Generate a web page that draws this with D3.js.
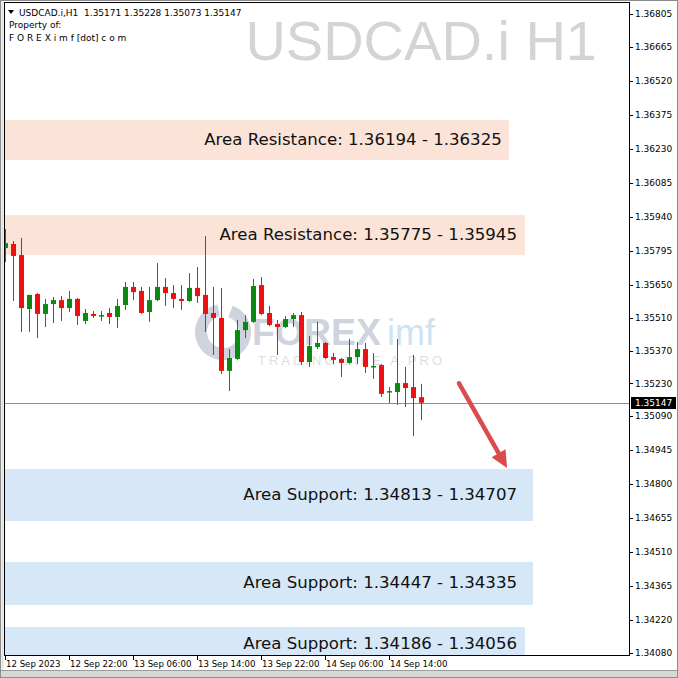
<!DOCTYPE html>
<html><head><meta charset="utf-8">
<script src="https://cdn.jsdelivr.net/npm/d3@7"></script>
<style>html,body{margin:0;padding:0;background:#fff;}svg{display:block;}</style>
</head><body>
<script>
// ---------- DATA ----------
const symbolTitle = "USDCAD.i H1";
const headerLine = "USDCAD.i,H1  1.35171 1.35228 1.35073 1.35147";
const headerLine2 = "Property of:";
const headerLine3 = "F O R E X i m f [dot] c o m";
const lastPrice = 1.35147;

const openP  = [1.35807,1.35824,1.35777,1.35547,1.35611,1.35526,1.35568,1.35585,1.35551,1.35590,1.35496,1.35526,1.35517,1.35530,1.35513,1.35564,1.35641,1.35624,1.35534,1.35585,1.35641,1.35615,1.35590,1.35581,1.35637,1.35607,1.35530,1.35509,1.35283,1.35334,1.35457,1.35492,1.35649,1.35530,1.35483,1.35470,1.35504,1.35521,1.35321,1.35385,1.35402,1.35342,1.35334,1.35317,1.35342,1.35376,1.35300,1.35308,1.35193,1.35193,1.35231,1.35214,1.35171];
const highP  = [1.35888,1.35837,1.35850,1.35607,1.35615,1.35590,1.35598,1.35602,1.35624,1.35594,1.35547,1.35538,1.35538,1.35551,1.35590,1.35662,1.35662,1.35641,1.35641,1.35743,1.35679,1.35649,1.35649,1.35700,1.35726,1.35858,1.35641,1.35637,1.35376,1.35500,1.35521,1.35675,1.35683,1.35560,1.35500,1.35517,1.35530,1.35534,1.35432,1.35492,1.35406,1.35359,1.35338,1.35419,1.35406,1.35402,1.35359,1.35312,1.35214,1.35419,1.35300,1.35351,1.35228];
const lowP   = [1.35747,1.35581,1.35449,1.35449,1.35423,1.35470,1.35487,1.35496,1.35534,1.35479,1.35483,1.35509,1.35496,1.35483,1.35466,1.35543,1.35585,1.35526,1.35492,1.35581,1.35560,1.35551,1.35543,1.35577,1.35573,1.35449,1.35351,1.35270,1.35197,1.35330,1.35423,1.35488,1.35521,1.35474,1.35351,1.35466,1.35470,1.35308,1.35300,1.35376,1.35334,1.35312,1.35257,1.35312,1.35312,1.35274,1.35249,1.35172,1.35146,1.35138,1.35129,1.35005,1.35073];
const closeP = [1.35828,1.35773,1.35551,1.35607,1.35526,1.35568,1.35585,1.35551,1.35590,1.35517,1.35530,1.35517,1.35521,1.35513,1.35560,1.35641,1.35619,1.35530,1.35585,1.35641,1.35615,1.35590,1.35581,1.35637,1.35602,1.35526,1.35509,1.35283,1.35338,1.35457,1.35492,1.35645,1.35526,1.35479,1.35470,1.35504,1.35521,1.35321,1.35389,1.35402,1.35338,1.35330,1.35317,1.35342,1.35376,1.35300,1.35304,1.35185,1.35197,1.35231,1.35210,1.35167,1.35147];

const yTickValues = [1.36805,1.36665,1.36520,1.36375,1.36230,1.36085,1.35940,1.35795,1.35650,1.35510,1.35370,1.35230,1.35090,1.34945,1.34800,1.34655,1.34510,1.34365,1.34220,1.34080];
const xTickBars   = [0,8,16,24,32,40,48];
const xTickLabels = ["12 Sep 2023","12 Sep 22:00","13 Sep 06:00","13 Sep 14:00","13 Sep 22:00","14 Sep 06:00","14 Sep 14:00"];

const zoneLabels  = ["Area Resistance: 1.36194 - 1.36325","Area Resistance: 1.35775 - 1.35945","Area Support: 1.34813 - 1.34707","Area Support: 1.34447 - 1.34335","Area Support: 1.34186 - 1.34056"];
const zoneKinds   = ["resistance","resistance","support","support","support"];
const zoneTop     = [1.36353,1.35948,1.34865,1.34468,1.34191];
const zoneBottom  = [1.36182,1.35777,1.34643,1.34285,1.34046];
const zoneEndBar  = [63,65,66,66,65];
const zoneTextBar = [62.1,64,64,64,64];

const arrowFrom = {bar:56.75, price:1.35230};
const arrowTo   = {bar:62.75, price:1.34869};

// ---------- LAYOUT ----------
const W=678,H=678;
const L=4,R=629,T=2,B=655;
const bullColor="#0b8a12", bearColor="#ee1111";

const svg=d3.select("body").append("svg").attr("width",W).attr("height",H);
svg.append("rect").attr("width",W).attr("height",H).attr("fill","#fff");

const x=d3.scaleLinear().domain([0,52]).range([5,421]);
const y=d3.scaleLinear().domain([1.34080,1.36805]).range([653,14]);

svg.append("clipPath").attr("id","plot").append("rect").attr("x",L).attr("y",T).attr("width",R-L).attr("height",B-T);
const g=svg.append("g").attr("clip-path","url(#plot)");

// zones
const zones=zoneLabels.map((t,i)=>({t,kind:zoneKinds[i],top:zoneTop[i],bot:zoneBottom[i],end:zoneEndBar[i],te:zoneTextBar[i]}));
g.selectAll("rect.zone").data(zones).join("rect").attr("class","zone")
 .attr("x",L).attr("y",d=>y(d.top)).attr("width",d=>x(d.end)-L)
 .attr("height",d=>y(d.bot)-y(d.top))
 .attr("fill",d=>d.kind==="resistance"?"#fbe3d8":"#d6e8f7");
g.selectAll("text.zone").data(zones).join("text").attr("class","zone")
 .attr("x",d=>x(d.te)).attr("y",d=>(y(d.top)+y(d.bot))/2-1)
 .attr("dy","0.36em").attr("text-anchor","end")
 .attr("font-family","DejaVu Sans, Verdana, sans-serif").attr("font-size",16.6)
 .attr("fill","#111").text(d=>d.t);

// title watermark
g.append("text").attr("x",597).attr("y",60).attr("text-anchor","end")
 .attr("font-family","Liberation Sans, Arial, sans-serif").attr("font-size",56)
 .attr("fill","#d4d4d4").text(symbolTitle);

// FOREXimf watermark
const wm=g.append("g").attr("opacity",0.55);
wm.append("path").attr("d",d3.arc()({innerRadius:16,outerRadius:28,startAngle:0.35,endAngle:2*Math.PI-0.2}))
 .attr("transform","translate(223,332)").attr("fill","#a9b0c4");
wm.append("text").attr("x",252).attr("y",345).attr("font-family","Liberation Sans, Arial, sans-serif")
 .attr("font-weight","bold").attr("font-size",36).attr("textLength",129).attr("lengthAdjust","spacingAndGlyphs")
 .attr("fill","#a9b0c4").text("FOREX");
wm.append("text").attr("x",387).attr("y",345).attr("font-family","Liberation Sans, Arial, sans-serif")
 .attr("font-size",36).attr("fill","#a8cbe8").text("imf");
wm.append("text").attr("x",258).attr("y",365).attr("font-family","Liberation Sans, Arial, sans-serif")
 .attr("font-size",13).attr("textLength",184).attr("fill","#c4c4c4").text("TRADING LIKE A PRO");

// current price line
g.append("line").attr("x1",L).attr("x2",R).attr("y1",Math.round(y(lastPrice))+0.5).attr("y2",Math.round(y(lastPrice))+0.5)
 .attr("stroke","#8a8f96").attr("stroke-width",1);

// candles
const candles=openP.map((o,i)=>({i,o,h:highP[i],l:lowP[i],c:closeP[i]}));
const cg=g.selectAll("g.c").data(candles).join("g").attr("class","c");
cg.append("line").attr("x1",d=>Math.round(x(d.i))+0.5).attr("x2",d=>Math.round(x(d.i))+0.5)
 .attr("y1",d=>y(d.h)).attr("y2",d=>y(d.l))
 .attr("stroke",d=>d.c>=d.o?bullColor:bearColor).attr("stroke-width",1);
cg.append("rect").attr("x",d=>Math.round(x(d.i))-2).attr("width",5)
 .attr("y",d=>y(Math.max(d.o,d.c)))
 .attr("height",d=>Math.max(1.5,Math.abs(y(d.o)-y(d.c))))
 .attr("fill",d=>d.c>=d.o?bullColor:bearColor);

// arrow
const ax1=x(arrowFrom.bar),ay1=y(arrowFrom.price),ax2=x(arrowTo.bar),ay2=y(arrowTo.price);
const ang=Math.atan2(ay2-ay1,ax2-ax1), hl=17, hw=8;
const bx=ax2-hl*Math.cos(ang), by=ay2-hl*Math.sin(ang);
g.append("line").attr("x1",ax1).attr("y1",ay1).attr("x2",bx).attr("y2",by)
 .attr("stroke","#dc4b4b").attr("stroke-width",4.5).attr("stroke-linecap","round");
g.append("path").attr("d",`M${ax2},${ay2}L${bx+hw*Math.sin(ang)},${by-hw*Math.cos(ang)}L${bx-hw*Math.sin(ang)},${by+hw*Math.cos(ang)}Z`)
 .attr("fill","#dc4b4b");

// header
const hf="DejaVu Sans, Verdana, sans-serif";
svg.append("path").attr("d","M8,10L14,10L11,14Z").attr("fill","#000");
svg.append("text").attr("x",19).attr("y",15.5).attr("font-family",hf).attr("font-size",9).attr("fill","#000")
 .attr("xml:space","preserve").style("white-space","pre").text(headerLine);
svg.append("text").attr("x",9).attr("y",28).attr("font-family",hf).attr("font-size",9).attr("fill","#000").text(headerLine2);
svg.append("text").attr("x",9).attr("y",41).attr("font-family",hf).attr("font-size",9).attr("fill","#000").text(headerLine3);

// plot border
svg.append("rect").attr("x",L+0.5).attr("y",T+0.5).attr("width",R-L).attr("height",B-T)
 .attr("fill","none").attr("stroke","#000").attr("stroke-width",1);

// y axis
const ya=svg.append("g");
ya.selectAll("line").data(yTickValues).join("line")
 .attr("x1",R).attr("x2",R+4).attr("y1",d=>Math.round(y(d))+0.5).attr("y2",d=>Math.round(y(d))+0.5).attr("stroke","#000");
ya.selectAll("text").data(yTickValues).join("text")
 .attr("x",R+6).attr("y",d=>y(d)).attr("dy","0.36em").attr("font-family",hf).attr("font-size",9).attr("fill","#000")
 .text(d=>d.toFixed(5));

// current price label
const py=Math.round(y(lastPrice));
svg.append("rect").attr("x",R+2).attr("y",py-6).attr("width",45).attr("height",12).attr("fill","#000");
svg.append("text").attr("x",R+6).attr("y",py).attr("dy","0.36em").attr("font-family",hf).attr("font-size",9)
 .attr("fill","#fff").text(lastPrice.toFixed(5));

// x axis
const xa=svg.append("g");
xa.selectAll("line").data(xTickBars).join("line")
 .attr("x1",d=>Math.round(x(d))+0.5).attr("x2",d=>Math.round(x(d))+0.5).attr("y1",B).attr("y2",B+5).attr("stroke","#000");
xa.selectAll("text").data(xTickBars).join("text")
 .attr("x",d=>x(d)+1).attr("y",B+12).attr("font-family",hf).attr("font-size",8.6).attr("fill","#000")
 .text((d,i)=>xTickLabels[i]);

// outer frame
svg.append("rect").attr("x",0).attr("y",670).attr("width",W).attr("height",8).attr("fill","#d8d8d8");
svg.append("line").attr("x1",0).attr("x2",W).attr("y1",670.5).attr("y2",670.5).attr("stroke","#9c9c9c");
svg.append("rect").attr("x",0.5).attr("y",0.5).attr("width",W-1).attr("height",H-1).attr("fill","none").attr("stroke","#8c8c8c");
svg.append("rect").attr("x",1.5).attr("y",1.5).attr("width",2).attr("height",668).attr("fill","#e0e0e0");
</script>
</body></html>
